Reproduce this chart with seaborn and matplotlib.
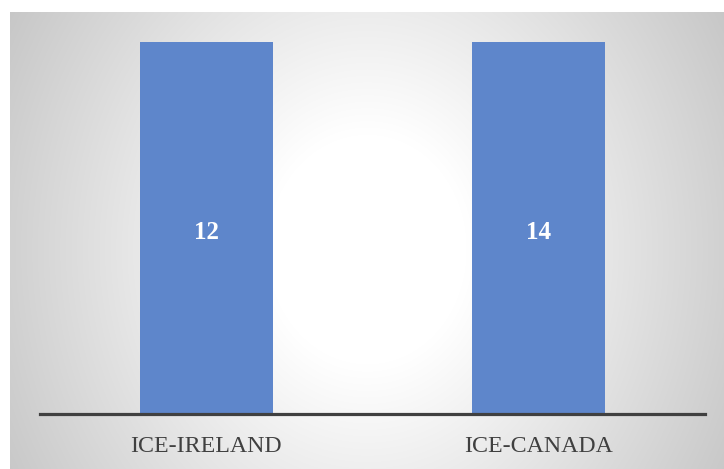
import numpy as np
import pandas as pd
import matplotlib
matplotlib.use("Agg")
import matplotlib.pyplot as plt
import seaborn as sns

categories = ["ICE-IRELAND", "ICE-CANADA"]
values = [12, 14]
# 100% stacked column with a single series: each column is its full share
share = [v / v * 100 for v in values]

sns.set_theme(style="white")
plt.rcParams["font.family"] = ["Liberation Serif", "DejaVu Serif"]

fig = plt.figure(figsize=(7.24, 4.69), dpi=100)
fig.patch.set_facecolor("white")

# radial gradient chart-area background
bg = fig.add_axes([10 / 724, 0, 714 / 724, 457 / 469], zorder=0)
ny, nx = 457, 714
yy, xx = np.mgrid[0:ny, 0:nx]
cx, cy = nx * 0.50, ny * 0.52
rx, ry = nx * 0.5, ny * 0.5 * 1.8
r = np.sqrt(((xx - cx) / rx) ** 2 + ((yy - cy) / ry) ** 2)
g = 1 - 0.25 * np.clip(r - 0.28, 0, None)
g = np.clip(g, 0.74, 1)
img = np.dstack([g, g, g])
bg.imshow(img, aspect="auto", extent=[0, 1, 0, 1], origin="upper")
bg.set_axis_off()

ax = fig.add_axes([40 / 724, 55 / 469, 665 / 724, 372 / 469], zorder=1)
ax.patch.set_alpha(0)
df = pd.DataFrame({"cat": categories, "share": share, "val": values})
sns.barplot(data=df, x="cat", y="share", color="#5E86CB", saturation=1,
            width=0.4, ax=ax, edgecolor="none")
ax.set_xlim(-0.5, 1.5)
ax.set_ylim(0, 100)
ax.set_xlabel("")
ax.set_ylabel("")
ax.set_yticks([])
for s in ["top", "right", "left"]:
    ax.spines[s].set_visible(False)
ax.spines["bottom"].set_color("#404040")
ax.spines["bottom"].set_linewidth(2.3)
ax.tick_params(axis="x", length=0, pad=16, labelsize=17.2, labelcolor="#404040")
for lbl in ax.get_xticklabels():
    lbl.set_fontfamily(["Liberation Serif", "DejaVu Serif"])

ax.bar_label(ax.containers[0], labels=[str(v) for v in values], label_type="center",
             color="white", fontsize=18, fontweight="bold",
             fontfamily=["Liberation Serif", "DejaVu Serif"], padding=0)
for t in ax.texts:
    x, y = t.get_position()
    t.set_position((x, y - 3))

fig.savefig("out.png", dpi=100)
